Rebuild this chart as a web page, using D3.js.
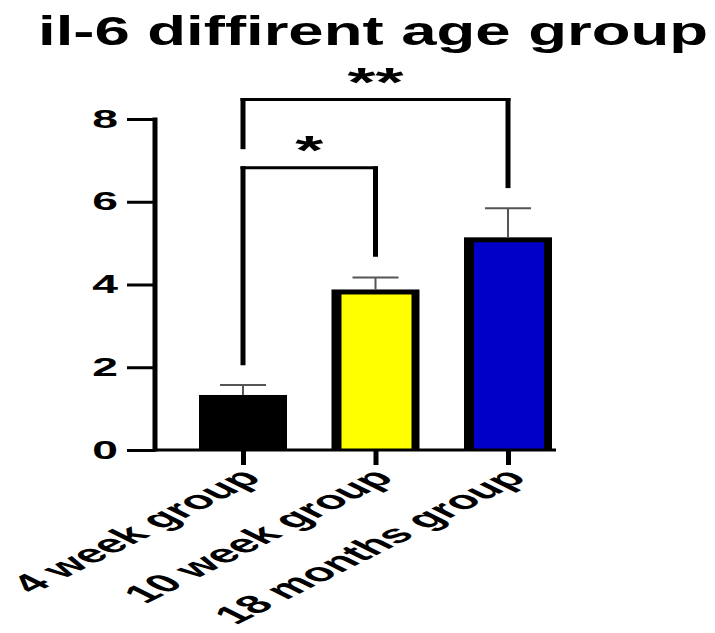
<!DOCTYPE html>
<html>
<head>
<meta charset="utf-8">
<script src="https://cdn.jsdelivr.net/npm/d3@7"></script>
<style>
  html, body { margin: 0; padding: 0; background: #fff; }
  svg { display: block; }
  text { font-family: "Liberation Sans", Arial, sans-serif; font-weight: bold; fill: #000; }
</style>
</head>
<body>
<svg id="chart" width="715" height="633"></svg>
<script>
// IL-6 levels per age group (mean and SEM)
const categories = ["4 week group", "10 week group", "18 months group"];
const means = [1.33, 3.88, 5.14];
const sems = [0.24, 0.29, 0.70];
const barColors = ["#000000", "#ffff00", "#0000c8"];
const yTicks = [0, 2, 4, 6, 8];
const titleText = "il-6 diffirent age group";

// significance comparisons: group indices, bracket level, leg ends (data units)
const compFrom = [0, 0];
const compTo = [1, 2];
const compLevel = [6.82, 8.47];
const compLegFrom = [2.05, 7.27];
const compLegTo = [4.67, 6.33];
const compStars = ["*", "**"];

const svg = d3.select("#chart");
const sx = 2.0; // horizontal text stretch for category labels

const y = d3.scaleLinear().domain([0, 8]).range([450, 119]);
const x = d3.scalePoint().domain(categories).range([243, 508]);
const barW = 88;

// title
svg.append("text")
  .attr("x", 38).attr("y", 45)
  .attr("font-size", 40)
  .attr("textLength", 670)
  .attr("lengthAdjust", "spacingAndGlyphs")
  .text(titleText);

// bars: black outline with inset colour fill
const bars = svg.append("g");
categories.forEach((c, i) => {
  const x0 = x(c) - barW / 2;
  const top = y(means[i]);
  bars.append("rect")
    .attr("x", x0).attr("y", top)
    .attr("width", barW).attr("height", y(0) - top)
    .attr("fill", "#000");
  if (i > 0) {
    bars.append("rect")
      .attr("x", x0 + 10).attr("y", top + 5)
      .attr("width", barW - 18).attr("height", y(0) - top - 5)
      .attr("fill", barColors[i]);
  }
});

// error bars (upper only)
const err = svg.append("g").attr("stroke", "#555").attr("stroke-width", 2);
categories.forEach((c, i) => {
  const cx = x(c);
  err.append("line").attr("x1", cx).attr("x2", cx)
    .attr("y1", y(means[i])).attr("y2", y(means[i] + sems[i]));
  err.append("line").attr("x1", cx - 23).attr("x2", cx + 23)
    .attr("y1", y(means[i] + sems[i])).attr("y2", y(means[i] + sems[i]));
});

// y axis
const yAxis = svg.append("g")
  .attr("transform", "translate(155,0)")
  .call(d3.axisLeft(y).tickValues(yTicks).tickSize(28).tickPadding(9).tickFormat(d3.format("d")));
yAxis.select(".domain").remove();
yAxis.selectAll(".tick line").attr("stroke", "#000").attr("stroke-width", 3);
yAxis.selectAll(".tick text")
  .attr("font-size", 25)
  .attr("text-anchor", "end")
  .each(function () {
    const t = d3.select(this);
    const tx = +t.attr("x");
    t.attr("x", 0).attr("transform", `translate(${tx},0) scale(1.85,1)`);
  });
svg.append("line")
  .attr("x1", 155).attr("x2", 155)
  .attr("y1", y(8) - 1.5).attr("y2", y(0) + 1.5)
  .attr("stroke", "#000").attr("stroke-width", 5);

// x axis
svg.append("line")
  .attr("x1", 153).attr("x2", 556)
  .attr("y1", y(0)).attr("y2", y(0))
  .attr("stroke", "#000").attr("stroke-width", 3);
const xAxis = svg.append("g")
  .attr("transform", `translate(0,${y(0)})`)
  .call(d3.axisBottom(x).tickSize(15).tickPadding(0));
xAxis.select(".domain").remove();
xAxis.selectAll(".tick line").attr("stroke", "#000").attr("stroke-width", 5);
xAxis.selectAll(".tick text")
  .attr("font-size", 25.5)
  .attr("text-anchor", "end")
  .attr("y", 0).attr("dy", "0.35em")
  .attr("transform", `translate(7,23) scale(${sx},1) rotate(-45)`);

// significance brackets
const br = svg.append("g");
compFrom.forEach((a, k) => {
  const xa = x(categories[a]);
  const xb = x(categories[compTo[k]]);
  const yl = y(compLevel[k]);
  br.append("line").attr("x1", xa - 2.5).attr("x2", xb + 2.5)
    .attr("y1", yl).attr("y2", yl)
    .attr("stroke", "#000").attr("stroke-width", 3);
  br.append("line").attr("x1", xa).attr("x2", xa)
    .attr("y1", yl - 1.5).attr("y2", y(compLegFrom[k]))
    .attr("stroke", "#000").attr("stroke-width", 5);
  br.append("line").attr("x1", xb).attr("x2", xb)
    .attr("y1", yl - 1.5).attr("y2", y(compLegTo[k]))
    .attr("stroke", "#000").attr("stroke-width", 5);
  br.append("text")
    .attr("text-anchor", "middle")
    .attr("font-size", 40)
    .attr("transform", `translate(${(xa + xb) / 2},${yl - 4}) scale(1.8,1)`)
    .text(compStars[k]);
});
</script>
</body>
</html>
